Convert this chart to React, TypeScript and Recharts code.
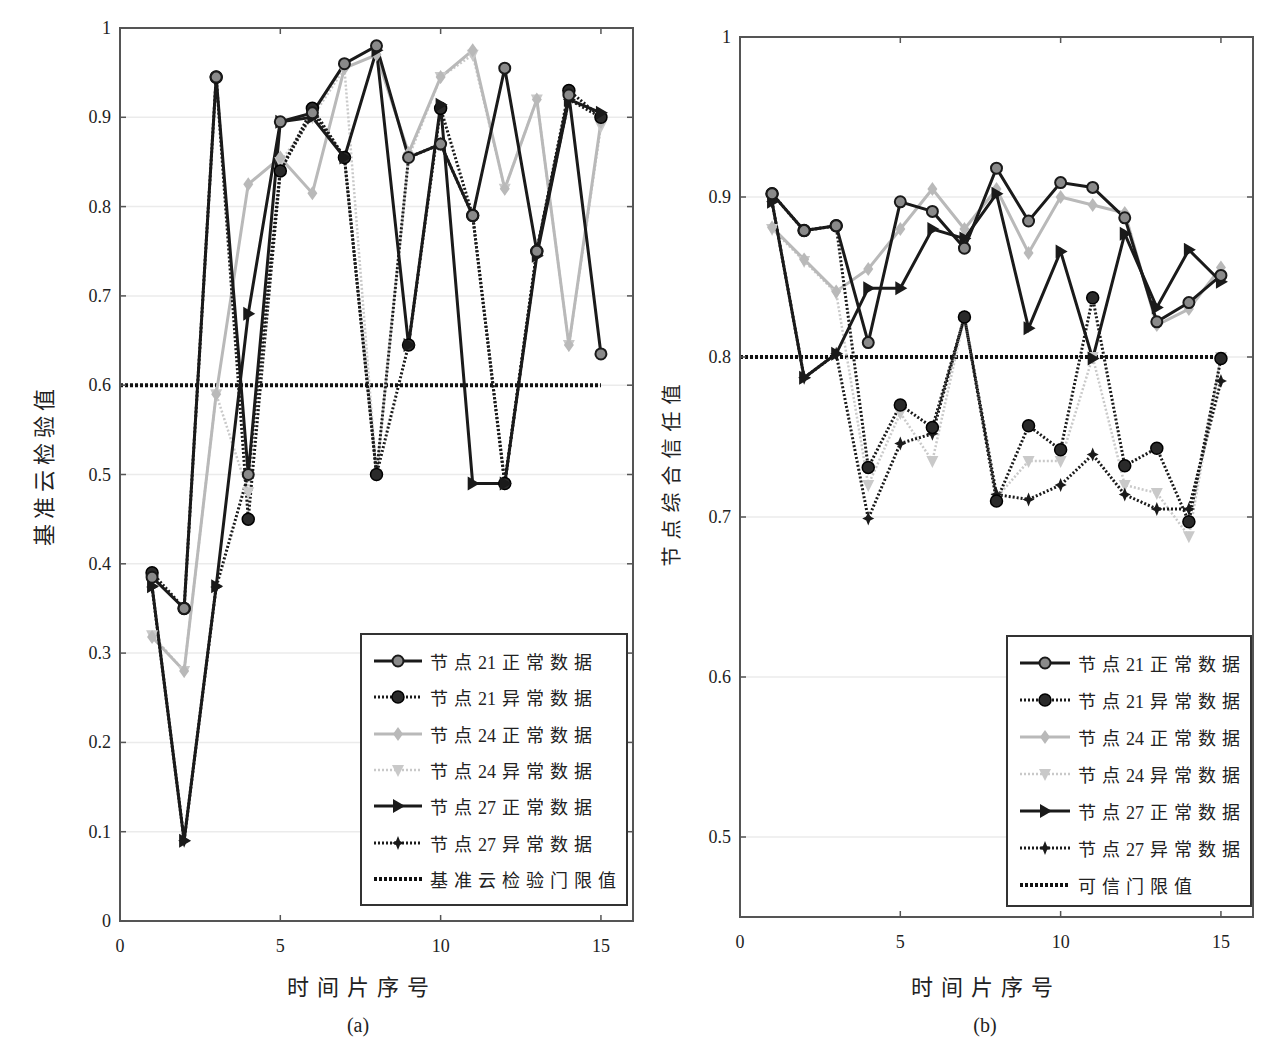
import React from 'react';
import { LineChart, Line, XAxis, YAxis, CartesianGrid, ReferenceLine, ReferenceArea } from 'recharts';

// ---------- data ----------
const timeSlices: number[] = [1, 2, 3, 4, 5, 6, 7, 8, 9, 10, 11, 12, 13, 14, 15];

// (a) 基准云检验值
const leftNode21Normal: number[] = [0.385, 0.35, 0.945, 0.5, 0.895, 0.905, 0.96, 0.98, 0.855, 0.87, 0.79, 0.955, 0.75, 0.925, 0.635];
const leftNode21Abnormal: number[] = [0.39, 0.35, 0.945, 0.45, 0.84, 0.91, 0.855, 0.5, 0.645, 0.91, 0.79, 0.49, 0.75, 0.93, 0.9];
const leftNode24Normal: number[] = [0.318, 0.28, 0.59, 0.825, 0.855, 0.815, 0.955, 0.97, 0.86, 0.945, 0.975, 0.82, 0.92, 0.645, 0.895];
const leftNode24Abnormal: number[] = [0.32, 0.28, 0.59, 0.48, 0.85, 0.9, 0.955, 0.5, 0.855, 0.945, 0.97, 0.82, 0.92, 0.645, 0.89];
const leftNode27Normal: number[] = [0.375, 0.09, 0.375, 0.68, 0.895, 0.9, 0.855, 0.975, 0.645, 0.914, 0.49, 0.49, 0.745, 0.92, 0.905];
const leftNode27Abnormal: number[] = [0.374, 0.09, 0.374, 0.5, 0.84, 0.905, 0.855, 0.5, 0.855, 0.87, 0.79, 0.49, 0.75, 0.92, 0.9];

// (b) 节点综合信任值
const rightNode21Normal: number[] = [0.902, 0.879, 0.882, 0.809, 0.897, 0.891, 0.868, 0.918, 0.885, 0.909, 0.906, 0.887, 0.822, 0.834, 0.851];
const rightNode21Abnormal: number[] = [0.902, 0.879, 0.882, 0.731, 0.77, 0.756, 0.825, 0.71, 0.757, 0.742, 0.837, 0.732, 0.743, 0.697, 0.799];
const rightNode24Normal: number[] = [0.881, 0.861, 0.841, 0.855, 0.88, 0.905, 0.88, 0.905, 0.865, 0.9, 0.895, 0.89, 0.82, 0.83, 0.856];
const rightNode24Abnormal: number[] = [0.88, 0.86, 0.84, 0.72, 0.765, 0.735, 0.825, 0.712, 0.735, 0.735, 0.8, 0.72, 0.715, 0.688, 0.8];
const rightNode27Normal: number[] = [0.897, 0.787, 0.802, 0.843, 0.843, 0.88, 0.874, 0.902, 0.818, 0.866, 0.799, 0.877, 0.831, 0.867, 0.847];
const rightNode27Abnormal: number[] = [0.897, 0.787, 0.802, 0.699, 0.746, 0.752, 0.825, 0.714, 0.711, 0.72, 0.739, 0.714, 0.705, 0.705, 0.785];

const xTicks: number[] = [0, 5, 10, 15];
const leftYTicks: number[] = [0, 0.1, 0.2, 0.3, 0.4, 0.5, 0.6, 0.7, 0.8, 0.9, 1];
const rightYTicks: number[] = [0.5, 0.6, 0.7, 0.8, 0.9, 1];
const leftThreshold = 0.6;
const rightThreshold = 0.8;

const seriesNames: string[] = ['节点21正常数据', '节点21异常数据', '节点24正常数据', '节点24异常数据', '节点27正常数据', '节点27异常数据'];
const leftThresholdName = '基准云检验门限值';
const rightThresholdName = '可信门限值';
const leftYTitle = '基准云检验值';
const rightYTitle = '节点综合信任值';
const xTitle = '时间片序号';
const leftSub = '(a)';
const rightSub = '(b)';

// ---------- styles ----------
const FONT = '"Liberation Serif", "DejaVu Serif", "Noto Sans CJK SC", serif';
const CJK = '"Noto Sans CJK SC", "Liberation Serif", serif';

type Kind = 'circleOpen' | 'circleFilled' | 'diamond' | 'triDown' | 'triRight' | 'star';

interface SeriesStyle {
  key: string;
  kind: Kind;
  color: string;
  dash?: string;
  width: number;
  name: string;
}

const styles: SeriesStyle[] = [
  { key: 'n21', kind: 'circleOpen', color: '#1a1a1a', width: 3, name: seriesNames[0] },
  { key: 'a21', kind: 'circleFilled', color: '#1a1a1a', dash: '2 2', width: 3, name: seriesNames[1] },
  { key: 'n24', kind: 'diamond', color: '#b9b9b9', width: 3, name: seriesNames[2] },
  { key: 'a24', kind: 'triDown', color: '#c9c9c9', dash: '2 2', width: 2.5, name: seriesNames[3] },
  { key: 'n27', kind: 'triRight', color: '#1a1a1a', width: 3, name: seriesNames[4] },
  { key: 'a27', kind: 'star', color: '#1a1a1a', dash: '2 2', width: 3, name: seriesNames[5] },
];
const drawOrder = ['a24', 'n24', 'a27', 'a21', 'n27', 'n21'];

function Marker({ kind, cx, cy, color }: { kind: Kind; cx: number; cy: number; color: string }) {
  switch (kind) {
    case 'circleOpen':
      return <circle cx={cx} cy={cy} r={5.5} fill="#8a8a8a" stroke={color} strokeWidth={2} />;
    case 'circleFilled':
      return <circle cx={cx} cy={cy} r={6} fill="#2a2a2a" stroke="#000" strokeWidth={1.5} />;
    case 'diamond':
      return <polygon points={`${cx},${cy - 7} ${cx + 5},${cy} ${cx},${cy + 7} ${cx - 5},${cy}`} fill={color} />;
    case 'triDown':
      return <polygon points={`${cx - 6},${cy - 5} ${cx + 6},${cy - 5} ${cx},${cy + 7}`} fill={color} />;
    case 'triRight':
      return <polygon points={`${cx - 5},${cy - 7} ${cx + 7},${cy} ${cx - 5},${cy + 7}`} fill={color} />;
    case 'star':
    default:
      return (
        <polygon
          points={`${cx},${cy - 7} ${cx + 2},${cy - 2} ${cx + 6},${cy} ${cx + 2},${cy + 2} ${cx},${cy + 7} ${cx - 2},${cy + 2} ${cx - 6},${cy} ${cx - 2},${cy - 2}`}
          fill={color}
        />
      );
  }
}

function makeDot(s: SeriesStyle) {
  return (p: any) => {
    if (p.cx == null || p.cy == null || p.value == null) return <g key={`${s.key}-${p.index}`} />;
    return (
      <g key={`${s.key}-${p.index}`}>
        <Marker kind={s.kind} cx={p.cx} cy={p.cy} color={s.color} />
      </g>
    );
  };
}

const fmt = (v: number) => (Math.abs(v) < 1e-9 ? '0' : Math.abs(v - 1) < 1e-9 ? '1' : v.toFixed(1));

const YTickLeft = (props: any) => {
  const { x, y, payload } = props;
  return (
    <g>
      <line x1={x} x2={x + 6} y1={y} y2={y} stroke="#555" strokeWidth={1.5} />
      <text x={x - 9} y={y} dy={6} textAnchor="end" fontSize={18} fontFamily={FONT} fill="#222">
        {fmt(payload.value)}
      </text>
    </g>
  );
};
const YTickRight = (props: any) => {
  const { x, y } = props;
  return <line x1={x} x2={x - 6} y1={y} y2={y} stroke="#555" strokeWidth={1.5} />;
};
const XTickBottom = (props: any) => {
  const { x, y, payload } = props;
  return (
    <g>
      <line x1={x} x2={x} y1={y} y2={y - 6} stroke="#555" strokeWidth={1.5} />
      <text x={x} y={y + 31} textAnchor="middle" fontSize={18} fontFamily={FONT} fill="#222">
        {payload.value}
      </text>
    </g>
  );
};
const XTickTop = (props: any) => {
  const { x, y } = props;
  return <line x1={x} x2={x} y1={y} y2={y + 6} stroke="#555" strokeWidth={1.5} />;
};

function buildRows(a: number[][]) {
  return timeSlices.map((x, i) => ({
    x,
    n21: a[0][i],
    a21: a[1][i],
    n24: a[2][i],
    a24: a[3][i],
    n27: a[4][i],
    a27: a[5][i],
  }));
}

const leftRows = buildRows([leftNode21Normal, leftNode21Abnormal, leftNode24Normal, leftNode24Abnormal, leftNode27Normal, leftNode27Abnormal]);
const rightRows = buildRows([rightNode21Normal, rightNode21Abnormal, rightNode24Normal, rightNode24Abnormal, rightNode27Normal, rightNode27Abnormal]);

interface PanelProps {
  rows: any[];
  left: number;
  width: number;
  margin: { top: number; right: number; bottom: number; left: number };
  yAxisWidth: number;
  yDomain: [number, number];
  yTicks: number[];
  threshold: number;
}

function Panel({ rows, left, width, margin, yAxisWidth, yDomain, yTicks, threshold }: PanelProps) {
  return (
    <div style={{ position: 'absolute', left, top: 0 }}>
      <LineChart width={width} height={1039} data={rows} margin={margin}>
        <CartesianGrid horizontal vertical={false} stroke="#ebebeb" strokeWidth={1.5} />
        <XAxis
          dataKey="x"
          type="number"
          domain={[0, 16]}
          ticks={xTicks}
          height={30}
          tickSize={0}
          tickMargin={0}
          tickLine={false}
          axisLine={{ stroke: '#555', strokeWidth: 2 }}
          tick={<XTickBottom />}
          interval={0}
        />
        <XAxis
          xAxisId="top"
          orientation="top"
          dataKey="x"
          type="number"
          domain={[0, 16]}
          ticks={xTicks}
          height={1}
          tickSize={0}
          tickMargin={0}
          tickLine={false}
          axisLine={{ stroke: '#555', strokeWidth: 2 }}
          tick={<XTickTop />}
          interval={0}
        />
        <YAxis
          type="number"
          domain={yDomain}
          ticks={yTicks}
          width={yAxisWidth}
          tickSize={0}
          tickMargin={0}
          tickLine={false}
          allowDataOverflow
          axisLine={{ stroke: '#555', strokeWidth: 2 }}
          tick={<YTickLeft />}
          interval={0}
        />
        <YAxis
          yAxisId="right"
          orientation="right"
          type="number"
          domain={yDomain}
          ticks={yTicks}
          width={1}
          tickSize={0}
          tickMargin={0}
          tickLine={false}
          allowDataOverflow
          axisLine={{ stroke: '#555', strokeWidth: 2 }}
          tick={<YTickRight />}
          interval={0}
        />
        <ReferenceArea
          x1={0}
          x2={16}
          y1={yDomain[0]}
          y2={yDomain[1]}
          fill="none"
          fillOpacity={0}
          stroke="#555"
          strokeWidth={2}
          ifOverflow="visible"
        />
        <ReferenceLine
          segment={[
            { x: 0, y: threshold },
            { x: 15, y: threshold },
          ]}
          stroke="#111"
          strokeWidth={4}
          strokeDasharray="3 2"
        />
        <Line
          xAxisId="top"
          yAxisId="right"
          dataKey="n21"
          stroke="none"
          dot={false}
          activeDot={false}
          legendType="none"
          isAnimationActive={false}
        />
        {drawOrder.map((k) => {
          const s = styles.find((t) => t.key === k)!;
          return (
            <Line
              key={k}
              type="linear"
              dataKey={k}
              name={s.name}
              stroke={s.color}
              strokeWidth={s.width}
              strokeDasharray={s.dash}
              dot={makeDot(s)}
              activeDot={false}
              isAnimationActive={false}
            />
          );
        })}
      </LineChart>
    </div>
  );
}

function LegendName({ name }: { name: string }) {
  const parts = name.split(/(\d+)/).filter((t) => t.length > 0);
  return (
    <span style={{ marginLeft: 8, fontFamily: CJK, fontSize: 18, color: '#222', whiteSpace: 'nowrap' }}>
      {parts.map((p, i) =>
        /\d/.test(p) ? (
          <span key={i} style={{ fontFamily: FONT, letterSpacing: 0, marginRight: 6 }}>
            {p}
          </span>
        ) : (
          <span key={i} style={{ letterSpacing: 6 }}>
            {p}
          </span>
        )
      )}
    </span>
  );
}

function LegendBox({ left, top, width, height, step, lineW, thresholdName }: { left: number; top: number; width: number; height: number; step: number; lineW: number; thresholdName: string }) {
  const rows = [...styles.map((s) => ({ ...s })), { key: 'th', kind: null as any, color: '#111', dash: '3 2', width: 4, name: thresholdName }];
  return (
    <div
      style={{
        position: 'absolute',
        left,
        top,
        width,
        height,
        border: '2px solid #333',
        background: '#fff',
        boxSizing: 'border-box',
      }}
    >
      {rows.map((r, i) => (
        <div key={r.key} style={{ position: 'absolute', left: 12, top: 10 + i * step, height: 32, display: 'flex', alignItems: 'center' }}>
          <svg width={lineW} height={20} style={{ display: 'block' }}>
            <line x1={0} x2={lineW} y1={10} y2={10} stroke={r.color} strokeWidth={r.width} strokeDasharray={r.dash} />
            {r.kind ? <Marker kind={r.kind} cx={lineW / 2} cy={10} color={r.color} /> : null}
          </svg>
          <LegendName name={r.name} />
        </div>
      ))}
    </div>
  );
}

const textStyle: React.CSSProperties = { position: 'absolute', fontFamily: CJK, color: '#222', whiteSpace: 'nowrap' };

export default function App() {
  return (
    <div style={{ position: 'absolute', left: 0, top: 0, width: 1261, height: 1039, background: '#fff', overflow: 'hidden' }}>
      <Panel
        rows={leftRows}
        left={0}
        width={650}
        margin={{ top: 27, right: 16, bottom: 88, left: 0 }}
        yAxisWidth={120}
        yDomain={[0, 1]}
        yTicks={leftYTicks}
        threshold={leftThreshold}
      />
      <Panel
        rows={rightRows}
        left={640}
        width={621}
        margin={{ top: 36, right: 7, bottom: 92, left: 0 }}
        yAxisWidth={100}
        yDomain={[0.45, 1]}
        yTicks={rightYTicks}
        threshold={rightThreshold}
      />
      <LegendBox left={360} top={633} width={268} height={273} step={36.3} lineW={48} thresholdName={leftThresholdName} />
      <LegendBox left={1006} top={635} width={246} height={272} step={37} lineW={50} thresholdName={rightThresholdName} />

      <div style={{ ...textStyle, left: 42, top: 465, fontSize: 22, letterSpacing: 5, transform: 'translate(-50%, -50%) rotate(-90deg)' }}>{leftYTitle}</div>
      <div style={{ ...textStyle, left: 670, top: 472, fontSize: 20, letterSpacing: 7, transform: 'translate(-50%, -50%) rotate(-90deg)' }}>{rightYTitle}</div>
      <div style={{ ...textStyle, left: 362, top: 985, fontSize: 22, letterSpacing: 8, transform: 'translate(-50%, -50%)' }}>{xTitle}</div>
      <div style={{ ...textStyle, left: 986, top: 985, fontSize: 22, letterSpacing: 8, transform: 'translate(-50%, -50%)' }}>{xTitle}</div>
      <div style={{ ...textStyle, fontFamily: FONT, left: 358, top: 1025, fontSize: 20, transform: 'translate(-50%, -50%)' }}>{leftSub}</div>
      <div style={{ ...textStyle, fontFamily: FONT, left: 985, top: 1025, fontSize: 20, transform: 'translate(-50%, -50%)' }}>{rightSub}</div>
    </div>
  );
}
